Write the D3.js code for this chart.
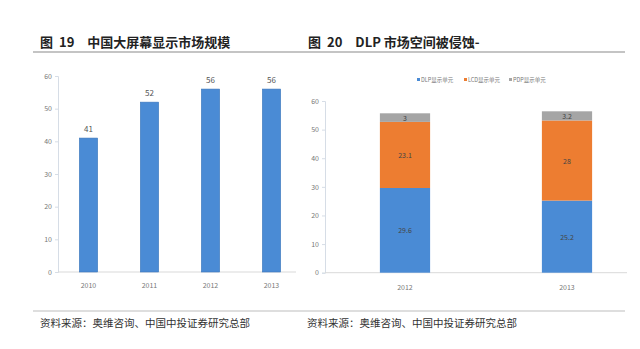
<!DOCTYPE html>
<html>
<head>
<meta charset="utf-8">
<script src="https://cdn.jsdelivr.net/npm/d3@7"></script>
<style>
  body { margin: 0; background: #fff; }
  text { font-family: "Noto Sans CJK SC", "Noto Sans", sans-serif; }
</style>
</head>
<body>
<div class="canvas"></div>
<script>
// data
const years1 = ['2010', '2011', '2012', '2013'];
const marketSize = [41, 52, 56, 56];

const years2 = ['2012', '2013'];
const dlpValues = [29.6, 25.2];
const lcdValues = [23.1, 28];
const pdpValues = [3, 3.2];
const seriesNames = ['DLP显示单元', 'LCD显示单元', 'PDP显示单元'];

const yTicks = [0, 10, 20, 30, 40, 50, 60];

const colors = ['#4a8bd5', '#ed7d31', '#a5a5a5'];

const svg = d3.select('.canvas')
  .append('svg')
    .attr('width', 640)
    .attr('height', 349);

// header / footer rules
svg.append('line')
  .attr('x1', 33).attr('x2', 625).attr('y1', 52).attr('y2', 52)
  .attr('stroke', '#8a8a8a').attr('stroke-width', 1.2);
svg.append('line')
  .attr('x1', 33).attr('x2', 625).attr('y1', 311).attr('y2', 311)
  .attr('stroke', '#bdbdbd').attr('stroke-width', 1.2);

// titles
const titles = [
  {x: 40, num: '19', t2: '中国大屏幕显示市场规模'},
  {x: 308, num: '20', t2: 'DLP 市场空间被侵蚀-'}
];
titles.forEach(t => {
  const g = svg.append('text')
    .attr('x', t.x).attr('y', 47)
    .attr('font-size', 13).attr('font-weight', 'bold').attr('fill', '#222');
  g.append('tspan').text('图');
  g.append('tspan').attr('dx', 6).text(t.num);
  g.append('tspan').attr('dx', 13).text(t.t2);
});

// sources
[40, 307].forEach(x => {
  svg.append('text')
    .attr('x', x).attr('y', 327)
    .attr('font-size', 10.5).attr('fill', '#333')
    .text('资料来源：奥维咨询、中国中投证券研究总部');
});

// ---------- left chart ----------
const y1 = d3.scaleLinear().domain([0, 60]).range([272, 76]);
const x1 = d3.scaleBand().domain(years1).range([58, 302]).paddingInner(0.7).paddingOuter(0.35);

const left = svg.append('g');

const yAxis1 = left.append('g')
  .attr('transform', 'translate(58,0)')
  .call(d3.axisLeft(y1).tickValues(yTicks).tickSize(3).tickPadding(3));
yAxis1.select('.domain').attr('stroke', '#d6dde6');
yAxis1.selectAll('line').attr('stroke', '#d6dde6');
yAxis1.selectAll('text').attr('fill', '#777').attr('font-size', 7);

left.append('line')
  .attr('x1', 58).attr('x2', 296).attr('y1', y1(0)).attr('y2', y1(0))
  .attr('stroke', '#d9d9d9');

left.selectAll('rect')
  .data(marketSize)
  .enter()
  .append('rect')
    .attr('x', (d, i) => x1(years1[i]))
    .attr('y', d => y1(d))
    .attr('width', x1.bandwidth())
    .attr('height', d => y1(0) - y1(d))
    .attr('fill', colors[0])
    .attr('stroke', '#3c77bb')
    .attr('stroke-width', 0.6);

left.selectAll('.val')
  .data(marketSize)
  .enter()
  .append('text')
    .attr('x', (d, i) => x1(years1[i]) + x1.bandwidth() / 2)
    .attr('y', d => y1(d) - 6)
    .attr('text-anchor', 'middle')
    .attr('font-size', 8).attr('fill', '#555')
    .text(d => d);

left.selectAll('.yr')
  .data(years1)
  .enter()
  .append('text')
    .attr('x', d => x1(d) + x1.bandwidth() / 2)
    .attr('y', 288)
    .attr('text-anchor', 'middle')
    .attr('font-size', 7).attr('fill', '#777')
    .text(d => d);

// ---------- right chart ----------
const y2 = d3.scaleLinear().domain([0, 60]).range([272.7, 101]);
const x2 = d3.scaleBand().domain(years2).range([324, 648]).paddingInner(0.69).paddingOuter(0.345);

const right = svg.append('g');

const yAxis2 = right.append('g')
  .attr('transform', 'translate(325,0)')
  .call(d3.axisLeft(y2).tickValues(yTicks).tickSize(3).tickPadding(3));
yAxis2.select('.domain').attr('stroke', '#d6dde6');
yAxis2.selectAll('line').attr('stroke', '#d6dde6');
yAxis2.selectAll('text').attr('fill', '#777').attr('font-size', 7);

right.append('line')
  .attr('x1', 325).attr('x2', 627).attr('y1', y2(0)).attr('y2', y2(0))
  .attr('stroke', '#d9d9d9');

const stackData = years2.map((yr, i) => ({year: yr, dlp: dlpValues[i], lcd: lcdValues[i], pdp: pdpValues[i]}));
const stack = d3.stack().keys(['dlp', 'lcd', 'pdp']);
const layers = stack(stackData);

layers.forEach((layer, li) => {
  right.selectAll('.seg' + li)
    .data(layer)
    .enter()
    .append('rect')
      .attr('x', d => x2(d.data.year))
      .attr('y', d => y2(d[1]))
      .attr('width', x2.bandwidth())
      .attr('height', d => y2(d[0]) - y2(d[1]))
      .attr('fill', colors[li]);

  right.selectAll('.lab' + li)
    .data(layer)
    .enter()
    .append('text')
      .attr('x', d => x2(d.data.year) + x2.bandwidth() / 2)
      .attr('y', d => (y2(d[0]) + y2(d[1])) / 2 + 3)
      .attr('text-anchor', 'middle')
      .attr('font-size', 7).attr('fill', '#444')
      .text(d => +(d[1] - d[0]).toFixed(1));
});

right.selectAll('.yr')
  .data(years2)
  .enter()
  .append('text')
    .attr('x', d => x2(d) + x2.bandwidth() / 2)
    .attr('y', 290)
    .attr('text-anchor', 'middle')
    .attr('font-size', 7).attr('fill', '#777')
    .text(d => d);

// legend
const legendX = [417, 464, 509];
const legend = right.selectAll('.legend')
  .data(seriesNames)
  .enter()
  .append('g')
    .attr('transform', (d, i) => `translate(${legendX[i]}, 80)`);
legend.append('rect')
  .attr('x', 0).attr('y', -2).attr('width', 3).attr('height', 3)
  .attr('fill', (d, i) => colors[i]);
legend.append('text')
  .attr('x', 4).attr('y', 2)
  .attr('font-size', 5.5).attr('fill', '#777')
  .text(d => d);
</script>
</body>
</html>
